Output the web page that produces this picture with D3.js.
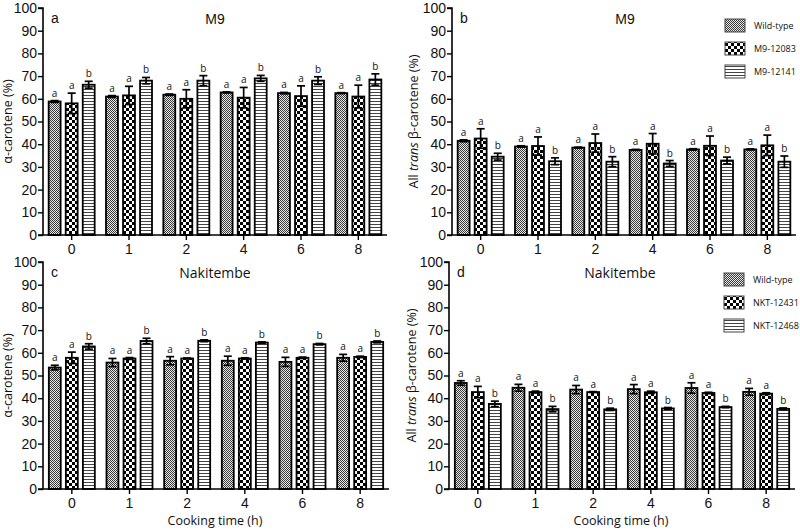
<!DOCTYPE html>
<html>
<head>
<meta charset="utf-8">
<script src="https://cdn.jsdelivr.net/npm/d3@7"></script>
<style>
  body { margin: 0; background: #fff; }
  svg { display: block; }
</style>
</head>
<body>
<svg id="chart" width="800" height="531"></svg>
<script>
// cooking time (h) categories
const times = ["0", "1", "2", "4", "6", "8"];
const yTicks = [0, 10, 20, 30, 40, 50, 60, 70, 80, 90, 100];
const letters = ["a", "a", "b"];

const m9Series = ["Wild-type", "M9-12083", "M9-12141"];
const nktSeries = ["Wild-type", "NKT-12431", "NKT-12468"];

// panel a: alpha-carotene, M9
const aMeans = [
  [58.8, 61.0, 61.8, 62.8, 62.5, 62.5],
  [58.0, 61.5, 60.0, 60.5, 61.2, 61.0],
  [66.2, 68.0, 68.0, 69.0, 68.0, 68.5]
];
const aErrs = [
  [0.4, 0.4, 0.3, 0.2, 0.3, 0.2],
  [4.5, 4.0, 4.0, 4.5, 4.5, 5.0],
  [1.5, 1.4, 2.2, 1.3, 1.7, 2.5]
];

// panel b: all trans beta-carotene, M9
const bMeans = [
  [41.5, 39.0, 38.5, 37.5, 37.7, 37.7],
  [42.5, 39.2, 40.5, 40.2, 39.3, 39.5],
  [34.5, 32.5, 32.3, 31.5, 32.8, 32.3]
];
const bErrs = [
  [0.4, 0.3, 0.2, 0.2, 0.3, 0.2],
  [4.3, 4.0, 4.0, 4.5, 4.3, 4.5],
  [1.5, 1.5, 2.2, 1.3, 1.5, 2.5]
];

// panel c: alpha-carotene, Nakitembe
const cMeans = [
  [53.5, 55.7, 56.5, 56.5, 56.0, 57.8],
  [57.8, 57.5, 57.5, 57.5, 57.8, 58.2],
  [62.8, 65.2, 65.3, 64.5, 63.8, 64.8]
];
const cErrs = [
  [1.0, 1.8, 1.8, 2.0, 2.0, 1.5],
  [2.5, 0.4, 0.2, 0.3, 0.3, 0.3],
  [1.2, 1.2, 0.4, 0.3, 0.3, 0.4]
];

// panel d: all trans beta-carotene, Nakitembe
const dMeans = [
  [46.7, 44.6, 43.8, 44.0, 44.5, 42.8],
  [42.7, 42.7, 42.7, 42.6, 42.3, 42.0],
  [37.5, 35.2, 35.1, 35.5, 36.1, 35.3]
];
const dErrs = [
  [1.0, 1.5, 1.8, 2.0, 2.3, 1.5],
  [2.5, 0.4, 0.2, 0.5, 0.3, 0.4],
  [1.2, 1.2, 0.5, 0.4, 0.3, 0.4]
];

const svg = d3.select("#chart");
const fontUI = "'Open Sans', 'Noto Sans', sans-serif";
const fontNum = "'Liberation Sans', Arial, sans-serif";

// fill patterns
const defs = svg.append("defs");

let p1 = defs.append("pattern").attr("id", "pat0")
  .attr("patternUnits", "userSpaceOnUse").attr("width", 2).attr("height", 2);
p1.append("rect").attr("width", 2).attr("height", 2).attr("fill", "#e8e8e8");
p1.append("rect").attr("width", 1).attr("height", 1).attr("fill", "#3a3a3a");
p1.append("rect").attr("x", 1).attr("y", 1).attr("width", 1).attr("height", 1).attr("fill", "#3a3a3a");

let p2 = defs.append("pattern").attr("id", "pat1")
  .attr("patternUnits", "userSpaceOnUse").attr("width", 6).attr("height", 6);
p2.append("rect").attr("width", 6).attr("height", 6).attr("fill", "#fff");
p2.append("rect").attr("width", 3).attr("height", 3).attr("fill", "#000");
p2.append("rect").attr("x", 3).attr("y", 3).attr("width", 3).attr("height", 3).attr("fill", "#000");

let p3 = defs.append("pattern").attr("id", "pat2")
  .attr("patternUnits", "userSpaceOnUse").attr("width", 4).attr("height", 3);
p3.append("rect").attr("width", 4).attr("height", 3).attr("fill", "#fff");
p3.append("rect").attr("y", 2).attr("width", 4).attr("height", 1).attr("fill", "#444");

const panels = [
  { letter: "a", title: "M9", x0: 43, x1: 387, yTop: 8, yBot: 235, means: aMeans, errs: aErrs, ylab: "alpha", series: null, titleX: 215, labX: 12 },
  { letter: "b", title: "M9", x0: 452, x1: 796, yTop: 8, yBot: 235, means: bMeans, errs: bErrs, ylab: "beta", series: m9Series, titleX: 625, labX: 418 },
  { letter: "c", title: "Nakitembe", x0: 43, x1: 389, yTop: 262, yBot: 489, means: cMeans, errs: cErrs, ylab: "alpha", series: null, titleX: 215, labX: 12, xlab: true },
  { letter: "d", title: "Nakitembe", x0: 449, x1: 795, yTop: 262, yBot: 489, means: dMeans, errs: dErrs, ylab: "beta", series: nktSeries, titleX: 620, labX: 416, xlab: true }
];

panels.forEach(p => {
  const g = svg.append("g");

  const x = d3.scaleBand().domain(times).range([p.x0, p.x1]).padding(0);
  const xi = d3.scaleBand().domain([0, 1, 2]).range([0, 46]).paddingInner(0.3).paddingOuter(0);
  const y = d3.scaleLinear().domain([0, 100]).range([p.yBot, p.yTop]);

  // bars
  p.means.forEach((vals, s) => {
    const off = x.bandwidth() / 2 - 23;
    g.append("g").selectAll("rect")
      .data(vals)
      .enter().append("rect")
        .attr("x", (d, i) => x(times[i]) + off + xi(s))
        .attr("y", d => y(d))
        .attr("width", xi.bandwidth())
        .attr("height", d => p.yBot - y(d))
        .attr("fill", `url(#pat${s})`)
        .attr("stroke", "#000")
        .attr("stroke-width", 1.8);

    // error bars
    const eg = g.append("g").attr("stroke", "#000").attr("stroke-width", 1.7);
    vals.forEach((d, i) => {
      const cx = x(times[i]) + off + xi(s) + xi.bandwidth() / 2;
      const e = p.errs[s][i];
      eg.append("line").attr("x1", cx).attr("x2", cx).attr("y1", y(d - e)).attr("y2", y(d + e));
      eg.append("line").attr("x1", cx - 4).attr("x2", cx + 4).attr("y1", y(d + e)).attr("y2", y(d + e));
      eg.append("line").attr("x1", cx - 4).attr("x2", cx + 4).attr("y1", y(d - e)).attr("y2", y(d - e));
      g.append("text")
        .attr("x", cx).attr("y", y(d + e) - 4)
        .attr("text-anchor", "middle")
        .attr("font-family", fontUI).attr("font-size", 10).attr("fill", "#111")
        .text(letters[s]);
    });
  });

  // axes
  const yAxis = g.append("g")
    .attr("transform", `translate(${p.x0},0)`)
    .call(d3.axisLeft(y).tickValues(yTicks).tickSize(5).tickPadding(1));
  yAxis.selectAll("text").attr("font-size", 14).attr("fill", "#111").attr("font-family", fontNum);
  yAxis.select(".domain").attr("stroke-width", 1.6).attr("d", `M-5,${p.yTop}H0V${p.yBot}`);
  yAxis.selectAll(".tick line").attr("stroke-width", 1.4);

  const xAxis = g.append("g")
    .attr("transform", `translate(0,${p.yBot})`)
    .call(d3.axisBottom(x).tickSize(5).tickPadding(4));
  xAxis.selectAll("text").attr("font-size", 14).attr("fill", "#111").attr("font-family", fontNum);
  xAxis.select(".domain").attr("stroke-width", 1.6).attr("d", `M${p.x0 - 5},0H${p.x1}`);
  xAxis.selectAll(".tick line").attr("stroke-width", 1.4);

  // panel letter and title
  g.append("text").attr("x", p.x0 + 8).attr("y", p.yTop + 15)
    .attr("font-family", fontNum).attr("font-size", 14).attr("fill", "#111").text(p.letter);
  g.append("text").attr("x", p.titleX).attr("y", p.yTop + 16)
    .attr("text-anchor", "middle").attr("fill", "#111")
    .attr("font-family", p.title === "M9" ? fontNum : fontUI).attr("font-size", 14).text(p.title);

  // y label
  const yl = g.append("text")
    .attr("transform", `translate(${p.labX},${(p.yTop + p.yBot) / 2}) rotate(-90)`)
    .attr("text-anchor", "middle")
    .attr("font-family", fontUI).attr("font-size", 12.5).attr("fill", "#111");
  if (p.ylab === "alpha") {
    yl.text("α-carotene (%)");
  } else {
    yl.append("tspan").text("All ");
    yl.append("tspan").attr("font-style", "italic").text("trans");
    yl.append("tspan").text(" β-carotene (%)");
  }

  if (p.xlab) {
    g.append("text").attr("x", (p.x0 + p.x1) / 2 - 1).attr("y", p.yBot + 36)
      .attr("text-anchor", "middle")
      .attr("font-family", fontUI).attr("font-size", 12.5).attr("fill", "#111")
      .text("Cooking time (h)");
  }

  // legend
  if (p.series) {
    const lg = g.append("g").attr("transform", `translate(${p.x1 - 71},${p.yTop + 11})`);
    p.series.forEach((name, s) => {
      lg.append("rect").attr("x", 0).attr("y", s * 23).attr("width", 20).attr("height", 13)
        .attr("fill", `url(#pat${s})`).attr("stroke", "#444").attr("stroke-width", 1);
      lg.append("text").attr("x", 29).attr("y", s * 23 + 10)
        .attr("font-family", fontUI).attr("font-size", 9).attr("fill", "#111").text(name);
    });
  }
});
</script>
</body>
</html>
